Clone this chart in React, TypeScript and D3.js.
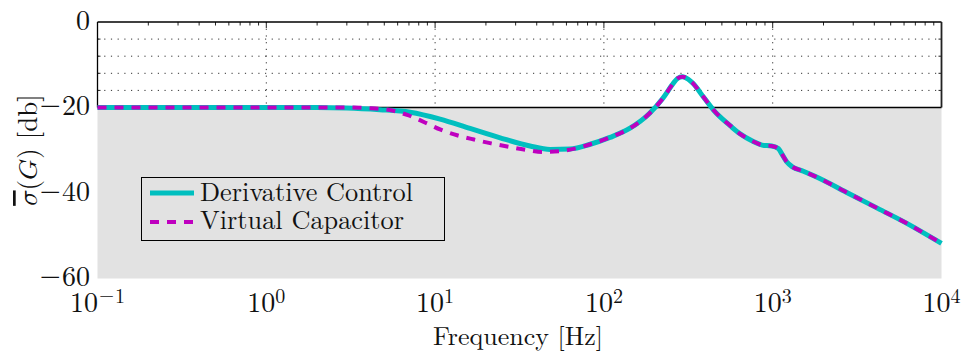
import React from "react";
import * as d3 from "d3";

const derivFreq = [0.1, 0.3, 1, 2, 3, 4.7, 7.1, 10.7, 16.1, 24.3, 36.5, 48, 63, 83, 108.6, 142, 186, 223, 256, 273, 292, 316, 338, 388, 446, 562, 637, 772, 865, 985, 1080, 1130, 1210, 1310, 1520, 1780, 2820, 4190, 6230, 10000];
const derivDb = [-20, -20, -20, -20, -20.1, -20.5, -21.1, -22.7, -24.9, -27.1, -29.0, -29.8, -29.7, -28.6, -27.0, -24.9, -21.4, -17.9, -14.5, -13.2, -12.8, -13.4, -14.4, -17.5, -20.6, -24.3, -26.1, -28.0, -28.8, -29.0, -29.6, -30.8, -32.7, -33.9, -34.9, -36.1, -40.1, -43.6, -47.1, -51.8];

const vcapFreq = [0.1, 0.3, 1, 2, 3, 4.2, 5.4, 6.9, 8.7, 10.8, 13.5, 17, 21.5, 27.4, 34.5, 43.6, 55.6, 70.7, 83, 108.6, 142, 186, 223, 256, 273, 292, 316, 338, 388, 446, 562, 637, 772, 865, 985, 1080, 1130, 1210, 1310, 1520, 1780, 2820, 4190, 6230, 10000];
const vcapDb = [-20, -20, -20, -20, -20.0, -20.2, -20.6, -21.8, -23.5, -25.2, -26.5, -27.5, -28.4, -29.2, -29.9, -30.4, -30.2, -29.4, -28.6, -27.0, -24.9, -21.4, -17.9, -14.5, -13.2, -12.8, -13.4, -14.4, -17.5, -20.6, -24.3, -26.1, -28.0, -28.8, -29.0, -29.6, -30.8, -32.7, -33.9, -34.9, -36.1, -40.1, -43.6, -47.1, -51.8];

const xDecades = [-1, 0, 1, 2, 3, 4];
const yTicks = [0, -20, -40, -60];
const yGrid = [-4, -8, -12, -16];
const seriesNames = ["Derivative Control", "Virtual Capacitor"];
const xLabel = "Frequency [Hz]";

const W = 964, H = 356;
const L = 97.5, R = 941.5, T = 22, B = 278.5;
const CYAN = "#00bfbf", MAG = "#bf00bf";
const ts: React.CSSProperties = { fontFamily: "Latin Modern Roman" };
const tm: React.CSSProperties = { fontFamily: "Latin Modern Math" };
const tminus: React.CSSProperties = { fontFamily: "DejaVu Sans", fontWeight: 200 };

function signed(v: number) {
  return v < 0 ? (
    <>
      <tspan style={tminus}>{"\u2212"}</tspan>
      <tspan>{String(Math.abs(v))}</tspan>
    </>
  ) : (
    <tspan>{String(v)}</tspan>
  );
}

export default function App() {
  const x = d3.scaleLog().domain([0.1, 1e4]).range([L, R]);
  const y = d3.scaleLinear().domain([-60, 0]).range([B, T]);
  const y20 = y(-20);

  const line = d3
    .line<[number, number]>()
    .x((d) => x(d[0]))
    .y((d) => y(d[1]))
    .curve(d3.curveMonotoneX);

  const derivPts = derivFreq.map((f, i) => [f, derivDb[i]] as [number, number]);
  const vcapPts = vcapFreq.map((f, i) => [f, vcapDb[i]] as [number, number]);

  const minorTicks: number[] = [];
  for (let e = -1; e < 4; e++) for (let m = 2; m <= 9; m++) minorTicks.push(m * Math.pow(10, e));

  return (
    <svg width={W} height={H} style={{ position: "absolute", left: 0, top: 0, background: "#fff" }}>
      {/* grid */}
      {yGrid.map((v) => (
        <line key={"hg" + v} x1={L} x2={R} y1={y(v)} y2={y(v)} stroke="#333" strokeWidth={1} strokeDasharray="1.2,5.5" />
      ))}
      {xDecades.slice(1, 5).map((e) => (
        <line key={"vg" + e} x1={x(Math.pow(10, e))} x2={x(Math.pow(10, e))} y1={T} y2={y20} stroke="#333" strokeWidth={1} strokeDasharray="1.2,5.5" />
      ))}
      {/* ticks top */}
      {minorTicks.map((f) => (
        <line key={"mt" + f} x1={x(f)} x2={x(f)} y1={T} y2={T + 3.5} stroke="#222" strokeWidth={1} />
      ))}
      {xDecades.map((e) => (
        <line key={"Mt" + e} x1={x(Math.pow(10, e))} x2={x(Math.pow(10, e))} y1={T} y2={T + 6} stroke="#222" strokeWidth={1} />
      ))}
      {yGrid.map((v) => (
        <g key={"yt" + v}>
          <line x1={L} x2={L + 3} y1={y(v)} y2={y(v)} stroke="#222" />
          <line x1={R - 3} x2={R} y1={y(v)} y2={y(v)} stroke="#222" />
        </g>
      ))}
      {/* frame of upper region */}
      <line x1={L} x2={R} y1={T} y2={T} stroke="#000" strokeWidth={1.3} />
      <line x1={L} x2={L} y1={T} y2={y20} stroke="#000" strokeWidth={1.3} />
      <line x1={R} x2={R} y1={T} y2={y20} stroke="#222" strokeWidth={1.8} />
      {/* gray region */}
      <rect x={L} y={y20} width={R - L} height={B - y20} fill="#e2e2e2" />
      <line x1={L} x2={R} y1={y20} y2={y20} stroke="#000" strokeWidth={1.4} />
      {/* curves */}
      <path d={line(derivPts) || ""} fill="none" stroke={CYAN} strokeWidth={5} strokeLinejoin="round" />
      <path d={line(vcapPts) || ""} fill="none" stroke={MAG} strokeWidth={4} strokeDasharray="9,8" />
      {/* legend */}
      <rect x={141.5} y={177.5} width={303} height={63} fill="none" stroke="#000" strokeWidth={1} />
      <line x1={150} x2={194} y1={193} y2={193} stroke={CYAN} strokeWidth={5} />
      <line x1={150} x2={194} y1={222} y2={222} stroke={MAG} strokeWidth={4} strokeDasharray="9,8" />
      <text style={ts} x={200} y={200.5} fontSize={26.3} fill="#111">{seriesNames[0]}</text>
      <text style={ts} x={200} y={229} fontSize={26.3} fill="#111">{seriesNames[1]}</text>
      {/* y tick labels */}
      {yTicks.map((v) => (
        <text style={ts} key={"yl" + v} x={90} y={y(v) + 7.5} fontSize={28} textAnchor="end" fill="#111">
          {signed(v)}
        </text>
      ))}
      {/* x tick labels */}
      {xDecades.map((e) => (
        <text style={ts} key={"xl" + e} x={x(Math.pow(10, e))} y={312} fontSize={28} textAnchor="middle" fill="#111">
          <tspan>10</tspan>
          <tspan dy={-9.5} fontSize={20}>{signed(e)}</tspan>
        </text>
      ))}
      {/* axis labels */}
      <text style={ts} x={518} y={345} fontSize={26} textAnchor="middle" fill="#111">{xLabel}</text>
      <text transform="translate(37,150) rotate(-90)" fontSize={27} textAnchor="middle" fill="#111" style={ts}>
        <tspan style={{ ...tm, textDecoration: "overline" }}>{"\u{1D70E}"}</tspan>
        <tspan>(</tspan>
        <tspan style={tm}>{"\u{1D43A}"}</tspan>
        <tspan>) [db]</tspan>
      </text>
    </svg>
  );
}
